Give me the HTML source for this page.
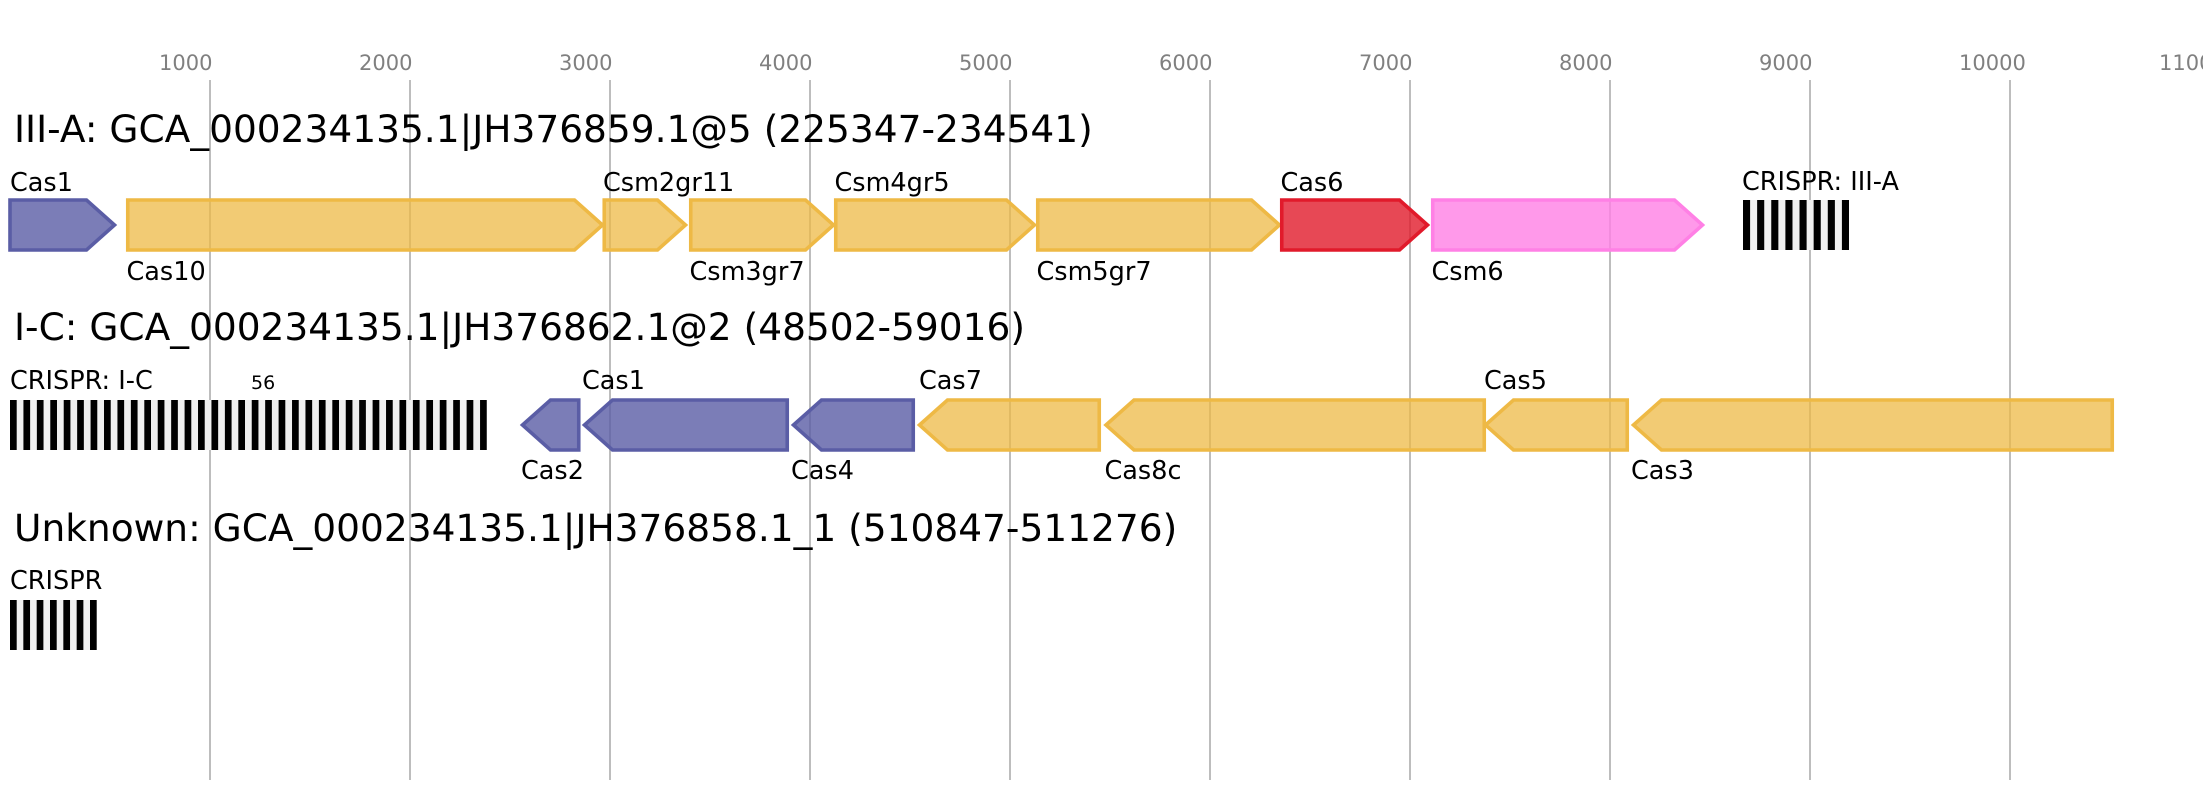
<!DOCTYPE html>
<html><head><meta charset="utf-8"><style>
html,body{margin:0;padding:0;background:#fff;}
svg{display:block;}
text{font-family:"DejaVu Sans","Liberation Sans",sans-serif;}
.t{font-size:21px;fill:#808080;}
.h{font-size:37.5px;fill:#000;}
.l{font-size:25.5px;fill:#000;}
.g{stroke:#bdbdbd;stroke-width:2;}
.b{fill:#5a5da5;fill-opacity:.8;stroke:#5a5da5;stroke-width:3.6;}
.y{fill:#eeb945;fill-opacity:.75;stroke:#eeb945;stroke-width:3.6;}
.r{fill:#e11a2b;fill-opacity:.8;stroke:#e11a2b;stroke-width:3.6;}
.p{fill:#ff80e5;fill-opacity:.8;stroke:#ff80e5;stroke-width:3.6;}
</style></head><body>
<svg width="2203" height="800" viewBox="0 0 2203 800" xmlns="http://www.w3.org/2000/svg">
<rect width="2203" height="800" fill="#fff"/>
<!-- gridlines -->
<g class="g">
<line x1="210" y1="80" x2="210" y2="780"/>
<line x1="410" y1="80" x2="410" y2="780"/>
<line x1="610" y1="80" x2="610" y2="780"/>
<line x1="810" y1="80" x2="810" y2="780"/>
<line x1="1010" y1="80" x2="1010" y2="780"/>
<line x1="1210" y1="80" x2="1210" y2="780"/>
<line x1="1410" y1="80" x2="1410" y2="780"/>
<line x1="1610" y1="80" x2="1610" y2="780"/>
<line x1="1810" y1="80" x2="1810" y2="780"/>
<line x1="2010" y1="80" x2="2010" y2="780"/>
</g>
<g class="t">
<text x="159" y="70">1000</text>
<text x="359" y="70">2000</text>
<text x="559" y="70">3000</text>
<text x="759" y="70">4000</text>
<text x="959" y="70">5000</text>
<text x="1159" y="70">6000</text>
<text x="1359" y="70">7000</text>
<text x="1559" y="70">8000</text>
<text x="1759" y="70">9000</text>
<text x="1959" y="70">10000</text>
<text x="2159" y="70">11000</text>
</g>

<!-- Row 1 -->
<text class="h" x="14" y="142">III-A: GCA_000234135.1|JH376859.1@5 (225347-234541)</text>
<polygon class="b" points="10,200 86.5,200 114.5,225 86.5,250 10,250"/>
<polygon class="y" points="127.75,200 574.5,200 602.5,225 574.5,250 127.75,250"/>
<polygon class="y" points="604.25,200 657.5,200 685.5,225 657.5,250 604.25,250"/>
<polygon class="y" points="690.75,200 805.5,200 833.5,225 805.5,250 690.75,250"/>
<polygon class="y" points="835.75,200 1006.5,200 1034.5,225 1006.5,250 835.75,250"/>
<polygon class="y" points="1037.75,200 1251.5,200 1279.5,225 1251.5,250 1037.75,250"/>
<polygon class="r" points="1281.75,200 1399.5,200 1427.5,225 1399.5,250 1281.75,250"/>
<polygon class="p" points="1432.75,200 1674.5,200 1702.5,225 1674.5,250 1432.75,250"/>
<rect x="1743" y="200" width="106" height="50" fill="#f0f0f0"/>
<g fill="#000">
<rect x="1743" y="200" width="7.1" height="50"/>
<rect x="1757.13" y="200" width="7.1" height="50"/>
<rect x="1771.26" y="200" width="7.1" height="50"/>
<rect x="1785.39" y="200" width="7.1" height="50"/>
<rect x="1799.52" y="200" width="7.1" height="50"/>
<rect x="1813.65" y="200" width="7.1" height="50"/>
<rect x="1827.78" y="200" width="7.1" height="50"/>
<rect x="1841.91" y="200" width="7.1" height="50"/>
</g>
<g class="l">
<text x="10" y="191">Cas1</text>
<text x="126.5" y="280">Cas10</text>
<text x="603" y="191">Csm2gr11</text>
<text x="689.5" y="280">Csm3gr7</text>
<text x="834.5" y="191">Csm4gr5</text>
<text x="1036.5" y="280">Csm5gr7</text>
<text x="1280.5" y="191">Cas6</text>
<text x="1431.5" y="280">Csm6</text>
<text x="1742" y="190">CRISPR: III-A</text>
</g>

<!-- Row 2 -->
<text class="h" x="14" y="340">I-C: GCA_000234135.1|JH376862.1@2 (48502-59016)</text>
<rect x="10" y="400" width="477" height="50" fill="#f0f0f0"/>
<g fill="#000">
<rect x="10" y="400" width="6.7" height="50"/>
<rect x="23.43" y="400" width="6.7" height="50"/>
<rect x="36.86" y="400" width="6.7" height="50"/>
<rect x="50.29" y="400" width="6.7" height="50"/>
<rect x="63.72" y="400" width="6.7" height="50"/>
<rect x="77.15" y="400" width="6.7" height="50"/>
<rect x="90.58" y="400" width="6.7" height="50"/>
<rect x="104.01" y="400" width="6.7" height="50"/>
<rect x="117.44" y="400" width="6.7" height="50"/>
<rect x="130.87" y="400" width="6.7" height="50"/>
<rect x="144.3" y="400" width="6.7" height="50"/>
<rect x="157.73" y="400" width="6.7" height="50"/>
<rect x="171.16" y="400" width="6.7" height="50"/>
<rect x="184.59" y="400" width="6.7" height="50"/>
<rect x="198.02" y="400" width="6.7" height="50"/>
<rect x="211.45" y="400" width="6.7" height="50"/>
<rect x="224.88" y="400" width="6.7" height="50"/>
<rect x="238.31" y="400" width="6.7" height="50"/>
<rect x="251.74" y="400" width="6.7" height="50"/>
<rect x="265.17" y="400" width="6.7" height="50"/>
<rect x="278.6" y="400" width="6.7" height="50"/>
<rect x="292.03" y="400" width="6.7" height="50"/>
<rect x="305.46" y="400" width="6.7" height="50"/>
<rect x="318.89" y="400" width="6.7" height="50"/>
<rect x="332.32" y="400" width="6.7" height="50"/>
<rect x="345.75" y="400" width="6.7" height="50"/>
<rect x="359.18" y="400" width="6.7" height="50"/>
<rect x="372.61" y="400" width="6.7" height="50"/>
<rect x="386.04" y="400" width="6.7" height="50"/>
<rect x="399.47" y="400" width="6.7" height="50"/>
<rect x="412.9" y="400" width="6.7" height="50"/>
<rect x="426.33" y="400" width="6.7" height="50"/>
<rect x="439.76" y="400" width="6.7" height="50"/>
<rect x="453.19" y="400" width="6.7" height="50"/>
<rect x="466.62" y="400" width="6.7" height="50"/>
<rect x="480.05" y="400" width="6.7" height="50"/>
</g>
<polygon class="b" points="522.5,425 550.5,400 578.75,400 578.75,450 550.5,450"/>
<polygon class="b" points="584.5,425 612.5,400 787.25,400 787.25,450 612.5,450"/>
<polygon class="b" points="793.5,425 821.5,400 913.25,400 913.25,450 821.5,450"/>
<polygon class="y" points="919.5,425 947.5,400 1099.25,400 1099.25,450 947.5,450"/>
<polygon class="y" points="1106,425 1134,400 1484.25,400 1484.25,450 1134,450"/>
<polygon class="y" points="1485.5,425 1513.5,400 1627.25,400 1627.25,450 1513.5,450"/>
<polygon class="y" points="1633.5,425 1661.5,400 2112.25,400 2112.25,450 1661.5,450"/>
<g class="l">
<text x="10" y="389">CRISPR: I-C</text>
<text x="521" y="479">Cas2</text>
<text x="582" y="389">Cas1</text>
<text x="791" y="479">Cas4</text>
<text x="919" y="389">Cas7</text>
<text x="1104.5" y="479">Cas8c</text>
<text x="1484" y="389">Cas5</text>
<text x="1631" y="479">Cas3</text>
</g>
<text x="251" y="389" style="font-size:19px;fill:#000;">56</text>

<!-- Row 3 -->
<text class="h" x="14" y="541">Unknown: GCA_000234135.1|JH376858.1_1 (510847-511276)</text>
<rect x="10" y="600" width="86.7" height="50" fill="#f0f0f0"/>
<g fill="#000">
<rect x="10" y="600" width="6.7" height="50"/>
<rect x="23.33" y="600" width="6.7" height="50"/>
<rect x="36.67" y="600" width="6.7" height="50"/>
<rect x="50" y="600" width="6.7" height="50"/>
<rect x="63.33" y="600" width="6.7" height="50"/>
<rect x="76.67" y="600" width="6.7" height="50"/>
<rect x="90" y="600" width="6.7" height="50"/>
</g>
<text class="l" x="10" y="589">CRISPR</text>
</svg>
</body></html>
